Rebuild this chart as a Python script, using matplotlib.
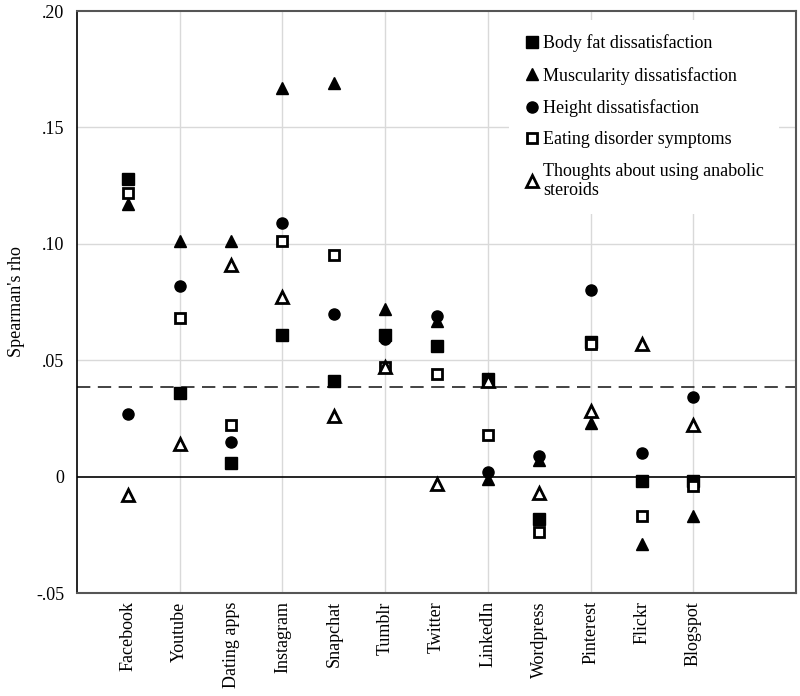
import matplotlib
matplotlib.use("Agg")
import matplotlib.pyplot as plt

categories = ["Facebook", "Youtube", "Dating apps", "Instagram", "Snapchat", "Tumblr",
              "Twitter", "LinkedIn", "Wordpress", "Pinterest", "Flickr", "Blogspot"]

body_fat = [0.128, 0.036, 0.006, 0.061, 0.041, 0.061, 0.056, 0.042, -0.018, 0.058, -0.002, -0.002]
muscularity = [0.117, 0.101, 0.101, 0.167, 0.169, 0.072, 0.067, -0.001, 0.007, 0.023, -0.029, -0.017]
height = [0.027, 0.082, 0.015, 0.109, 0.070, 0.059, 0.069, 0.002, 0.009, 0.080, 0.010, 0.034]
eating = [0.122, 0.068, 0.022, 0.101, 0.095, 0.047, 0.044, 0.018, -0.024, 0.057, -0.017, -0.004]
steroids = [-0.008, 0.014, 0.091, 0.077, 0.026, 0.047, -0.003, 0.041, -0.007, 0.028, 0.057, 0.022]

threshold = 0.0387

y_ticks = [-0.05, 0.0, 0.05, 0.10, 0.15, 0.20]
y_tick_labels = ["-.05", "0", ".05", ".10", ".15", ".20"]

series_labels = ["Body fat dissatisfaction", "Muscularity dissatisfaction",
                 "Height dissatisfaction", "Eating disorder symptoms",
                 "Thoughts about using anabolic\nsteroids"]

plt.rcParams['font.family'] = ['Liberation Serif', 'DejaVu Serif']
plt.rcParams['font.size'] = 13

fig = plt.figure(figsize=(8.0, 6.96), dpi=100)
ax = fig.add_axes([77/800, 1 - 593/696, 719/800, 582/696])

x = list(range(len(categories)))

ax.set_xlim(-1, 13)
ax.set_ylim(-0.05, 0.20)

# grid
for gx in [1, 3, 5, 7, 9, 11]:
    ax.axvline(gx, color='#d9d9d9', lw=1.0, zorder=0)
for gy in [0.05, 0.10, 0.15]:
    ax.axhline(gy, color='#d9d9d9', lw=1.0, zorder=0)

ax.axhline(0, color='black', lw=1.2, zorder=1)
ax.axhline(threshold, color='#222222', lw=1.2, linestyle=(0, (8, 4.5)), zorder=1)

ms = 8
ax.plot(x, body_fat, linestyle='none', marker='s', ms=ms, color='black',
        mec='black', label=series_labels[0], zorder=3)
ax.plot(x, muscularity, linestyle='none', marker='^', ms=ms + 1, color='black',
        mec='black', label=series_labels[1], zorder=3)
ax.plot(x, height, linestyle='none', marker='o', ms=ms, color='black',
        mec='black', label=series_labels[2], zorder=3)
ax.plot(x, eating, linestyle='none', marker='s', ms=ms - 0.5, mfc='white',
        mec='black', mew=2.0, label=series_labels[3], zorder=4)
ax.plot(x, steroids, linestyle='none', marker='^', ms=ms, mfc='white',
        mec='black', mew=2.0, label=series_labels[4], zorder=5)

ax.set_xticks(x)
ax.set_xticklabels(categories, rotation=90, va='top', ha='center')
ax.set_yticks(y_ticks)
ax.set_yticklabels(y_tick_labels)
ax.tick_params(axis='both', length=0)
ax.tick_params(axis='x', pad=6)
ax.tick_params(axis='y', pad=9)

ax.set_ylabel("Spearman's rho", labelpad=8)

for side in ['top', 'right', 'bottom']:
    ax.spines[side].set_color('#555555')
    ax.spines[side].set_linewidth(1.5)
ax.spines['left'].set_color('black')
ax.spines['left'].set_linewidth(1.2)

leg = ax.legend(loc='upper left', bbox_to_anchor=((509 - 77) / 719, (593 - 20) / 582),
                frameon=True, fancybox=False, framealpha=1.0, facecolor='white',
                edgecolor='none', handlelength=1.0, handletextpad=0.1,
                labelspacing=0.8, borderpad=0.8, borderaxespad=0.0, fontsize=13)
leg.set_zorder(6)
leg.get_frame().set_linewidth(0)

fig.savefig("out.png", dpi=100)
